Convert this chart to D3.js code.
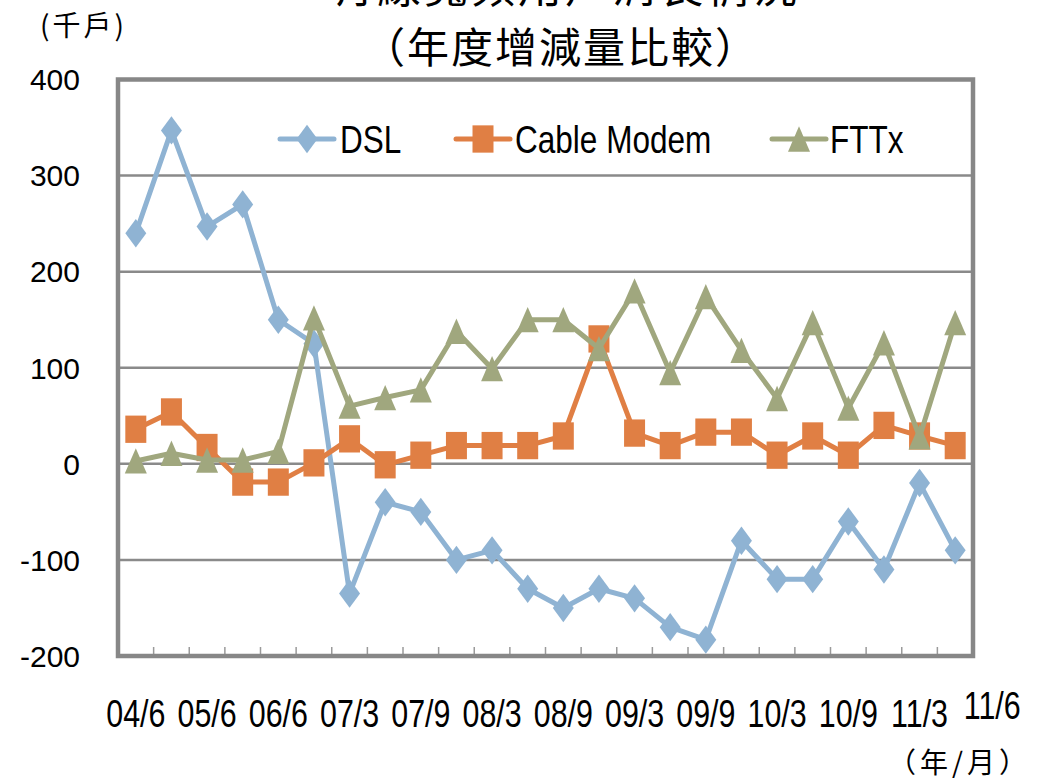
<!DOCTYPE html>
<html><head><meta charset="utf-8">
<script src="https://cdn.jsdelivr.net/npm/d3@7"></script>
<style>body{margin:0;background:#fff}</style></head>
<body><svg id="c" width="1039" height="781"></svg>
<script>
const categories = ["04/6","04/12","05/6","05/12","06/6","06/12","07/3","07/6","07/9","07/12","08/3","08/6","08/9","08/12","09/3","09/6","09/9","09/12","10/3","10/6","10/9","10/12","11/3","11/6"];
const dsl   = [240,347,247,270,150,125,-135,-40,-50,-100,-90,-130,-150,-130,-140,-170,-183,-80,-120,-120,-60,-110,-20,-90];
const cable = [36,54,17,-19,-19,1,26,-1,9,19,19,19,29,130,32,19,33,33,9,29,9,40,29,19];
const fttx  = [3,11,4,4,13,152,60,69,77,138,99,150,150,120,180,95,174,118,68,147,58,126,28,147];
const yTicks = [400,300,200,100,0,-100,-200];
const xTickLabels = ["04/6","05/6","06/6","07/3","07/9","08/3","08/9","09/3","09/9","10/3","10/9","11/3","11/6"];
const seriesNames = ["DSL","Cable Modem","FTTx"];
const colors = ["#8fb3d3","#e07f44","#a0a77e"];

// marker shapes (Excel-like: slightly taller than wide)
const diamond = { draw(c, s) { const w = Math.sqrt(s) / 2, h = w * 1.35;
  c.moveTo(0, -h); c.lineTo(w, 0); c.lineTo(0, h); c.lineTo(-w, 0); c.closePath(); } };
const square = { draw(c, s) { const w = Math.sqrt(s) / 2, h = w * 1.3;
  c.moveTo(-w, -h); c.lineTo(w, -h); c.lineTo(w, h); c.lineTo(-w, h); c.closePath(); } };
const triangle = { draw(c, s) { const w = Math.sqrt(s) / 2, h = w * 1.15;
  c.moveTo(0, -h); c.lineTo(w, h); c.lineTo(-w, h); c.closePath(); } };
const symbols = [diamond, square, triangle];
const symSizes = [441, 441, 484];

const svg = d3.select("#c");
const L = 118, R = 973, T = 79.5, B = 656;
const x = d3.scaleBand().domain(categories).range([L, R]);
const cx = c => x(c) + x.bandwidth() / 2;
const y = d3.scaleLinear().domain([-200, 400]).range([B, T]);

const sans = "'Liberation Sans',Arial,sans-serif";
const cjk = "'Noto Sans CJK TC','Noto Sans CJK SC',sans-serif";

// gridlines
svg.append("g").selectAll("line").data(yTicks.filter(v => v < 400 && v > -200)).join("line")
  .attr("x1", L).attr("x2", R).attr("y1", d => y(d)).attr("y2", d => y(d))
  .attr("stroke", "#8a8a8a").attr("stroke-width", 2.5);

// bottom ticks (band boundaries)
svg.append("g").selectAll("line").data(categories.slice(1)).join("line")
  .attr("x1", d => x(d)).attr("x2", d => x(d)).attr("y1", B).attr("y2", B - 9)
  .attr("stroke", "#9a9a9a").attr("stroke-width", 1.5);

// frame
svg.append("rect").attr("x", L).attr("y", T).attr("width", R - L).attr("height", B - T)
  .attr("fill", "none").attr("stroke", "#878787").attr("stroke-width", 4.5);

// y labels
svg.append("g").selectAll("text").data(yTicks).join("text")
  .attr("x", 80).attr("y", d => y(d)).attr("text-anchor", "end").attr("dy", "0.36em")
  .attr("font-family", sans).attr("font-size", 30).attr("fill", "#000")
  .text(d => d);

// x labels (condensed)
svg.append("g").selectAll("text").data(xTickLabels).join("text")
  .attr("transform", (d, i) => {
    const last = i === xTickLabels.length - 1;
    return `translate(${cx(d) + (last ? 37 : 0)},${last ? 719 : 727}) scale(0.8,1)`;
  })
  .attr("text-anchor", "middle")
  .attr("font-family", sans).attr("font-size", 38).attr("fill", "#000")
  .text(d => d);

// series
const data = [dsl, cable, fttx];
const line = d3.line().x((d, i) => cx(categories[i])).y(d => y(d));
data.forEach((vals, s) => {
  const g = svg.append("g");
  g.append("path").datum(vals).attr("d", line).attr("fill", "none")
    .attr("stroke", colors[s]).attr("stroke-width", 5).attr("stroke-linejoin", "round");
  const sym = d3.symbol().type(symbols[s]).size(symSizes[s]);
  g.selectAll("path.m").data(vals).join("path").attr("class", "m")
    .attr("d", sym)
    .attr("transform", (d, i) => `translate(${cx(categories[i])},${y(d)})`)
    .attr("fill", colors[s]);
});

// legend
const legX = [280, 456, 772], legTextX = [340, 515, 830], legY = 139;
seriesNames.forEach((n, s) => {
  const g = svg.append("g");
  g.append("line").attr("x1", legX[s]).attr("x2", legX[s] + 54).attr("y1", legY).attr("y2", legY)
    .attr("stroke", colors[s]).attr("stroke-width", 5).attr("stroke-linecap", "round");
  const sym = d3.symbol().type(symbols[s]).size(symSizes[s]);
  g.append("path").attr("d", sym).attr("transform", `translate(${legX[s] + 27},${legY})`)
    .attr("fill", colors[s]);
  g.append("text").attr("transform", `translate(${legTextX[s]},153) scale(0.83,1)`)
    .attr("font-family", sans).attr("font-size", 38).attr("fill", "#000").text(n);
});

// titles
svg.append("text").attr("x", 565).attr("y", 3).attr("text-anchor", "middle")
  .attr("font-family", cjk).attr("font-size", 44).attr("letter-spacing", 3).attr("fill", "#000")
  .text("有線寬頻用戶消長情況");
svg.append("text").attr("x", 561).attr("y", 63).attr("text-anchor", "middle")
  .attr("font-family", cjk).attr("font-size", 42).attr("letter-spacing", 2).attr("fill", "#000")
  .text("（年度增減量比較）");
svg.append("text").attr("x", 40).attr("y", 36)
  .attr("font-family", cjk).attr("font-size", 28).attr("letter-spacing", 3).attr("fill", "#000")
  .text("(千戶)");
svg.append("text").attr("x", 888).attr("y", 773)
  .attr("font-family", cjk).attr("font-size", 28).attr("letter-spacing", 4).attr("fill", "#000")
  .text("（年/月）");
</script></body></html>
